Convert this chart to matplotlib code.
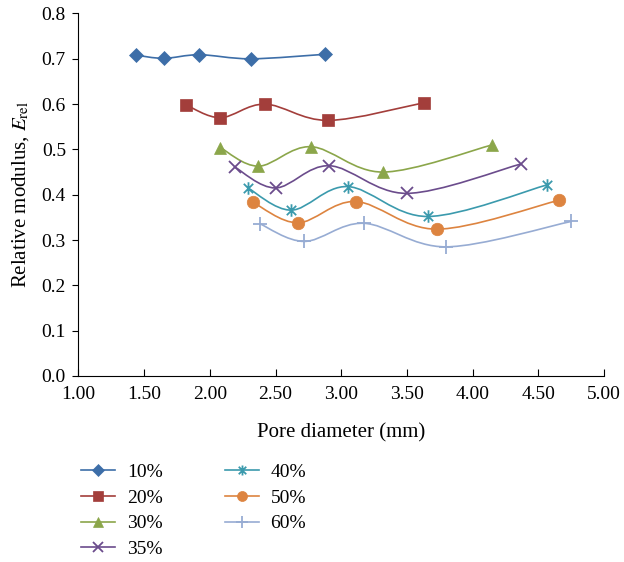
import numpy as np
import matplotlib
matplotlib.use('Agg')
import matplotlib.pyplot as plt
from matplotlib.path import Path
from matplotlib.patches import PathPatch

plt.rcParams['font.family'] = ['Liberation Serif', 'DejaVu Serif']
plt.rcParams['mathtext.fontset'] = 'stix'

# porosity series: pore diameter (mm) vs relative modulus
labels = ['10%', '20%', '30%', '35%', '40%', '50%', '60%']

x10 = [1.44, 1.65, 1.92, 2.31, 2.88]
y10 = [0.708, 0.701, 0.709, 0.700, 0.710]
x20 = [1.82, 2.08, 2.42, 2.90, 3.63]
y20 = [0.598, 0.570, 0.600, 0.564, 0.603]
x30 = [2.08, 2.37, 2.77, 3.32, 4.15]
y30 = [0.504, 0.463, 0.506, 0.450, 0.510]
x35 = [2.19, 2.50, 2.91, 3.50, 4.37]
y35 = [0.461, 0.415, 0.464, 0.403, 0.468]
x40 = [2.29, 2.62, 3.05, 3.66, 4.57]
y40 = [0.415, 0.366, 0.418, 0.352, 0.422]
x50 = [2.33, 2.67, 3.11, 3.73, 4.66]
y50 = [0.383, 0.338, 0.385, 0.324, 0.388]
x60 = [2.38, 2.72, 3.17, 3.80, 4.75]
y60 = [0.336, 0.297, 0.337, 0.285, 0.341]

xs = [x10, x20, x30, x35, x40, x50, x60]
ys = [y10, y20, y30, y35, y40, y50, y60]

colors = ['#3d6ea8', '#a33e3b', '#8ba64a', '#6b4c8c', '#3b9aad', '#dd8440', '#97acd3']

# excel style star: vertical bar plus an x
star = Path([(0, -1), (0, 1), (-0.75, -0.75), (0.75, 0.75), (-0.75, 0.75), (0.75, -0.75)],
            [Path.MOVETO, Path.LINETO, Path.MOVETO, Path.LINETO, Path.MOVETO, Path.LINETO])
markers = ['D', 's', '^', 'x', star, 'o', '+']
msizes = [7.5, 9, 9, 9, 9, 9, 10]


def smooth_path(x, y):
    # catmull-rom turned into bezier segments, like excel's "smoothed line"
    p = np.column_stack([x, y])
    n = len(p)
    verts = [p[0]]
    codes = [Path.MOVETO]
    for i in range(n - 1):
        p0 = p[max(i - 1, 0)]
        p1 = p[i]
        p2 = p[i + 1]
        p3 = p[min(i + 2, n - 1)]
        verts += [p1 + (p2 - p0) / 6, p2 - (p3 - p1) / 6, p2]
        codes += [Path.CURVE4] * 3
    return Path(verts, codes)


fig = plt.figure(figsize=(6.24, 5.62), dpi=100)
ax = fig.add_axes([0.1258, 0.331, 0.842, 0.645])

for x, y, c, m, ms, lab in zip(xs, ys, colors, markers, msizes, labels):
    ax.add_patch(PathPatch(smooth_path(x, y), facecolor='none', edgecolor=c, lw=1.2))
    mew = 1.3 if m in ('x', '+') or m is star else 0.5
    ax.plot(x, y, linestyle='none', marker=m, markersize=ms, color=c,
            markeredgecolor=c, markeredgewidth=mew)
    # proxy for the legend (line + marker)
    ax.plot([], [], color=c, lw=1.2, marker=m, markersize=ms, markeredgecolor=c,
            markeredgewidth=mew, label=lab)

ax.set_xlim(1.0, 5.0)
ax.set_ylim(0.0, 0.8)
ax.set_xticks(np.arange(1.0, 5.01, 0.5))
ax.set_yticks(np.arange(0.0, 0.81, 0.1))
ax.xaxis.set_major_formatter(matplotlib.ticker.FormatStrFormatter('%.2f'))
ax.yaxis.set_major_formatter(matplotlib.ticker.FormatStrFormatter('%.1f'))
ax.tick_params(axis='x', direction='in', length=5, labelsize=14, pad=7)
ax.tick_params(axis='y', direction='out', length=4, labelsize=14, pad=5)
for s in ['top', 'right']:
    ax.spines[s].set_visible(False)

ax.set_xlabel('Pore diameter (mm)', fontsize=15, labelpad=15)
ax.set_ylabel(r'Relative modulus, $E_{\rm rel}$', fontsize=15, labelpad=8)

fig.legend(loc='upper left', bbox_to_anchor=(0.102, 0.207), ncol=2, frameon=False,
           fontsize=14, handlelength=1.75, columnspacing=3.2, labelspacing=0.42,
           handletextpad=0.6, markerscale=0.8)

fig.savefig('out.png', dpi=100)
